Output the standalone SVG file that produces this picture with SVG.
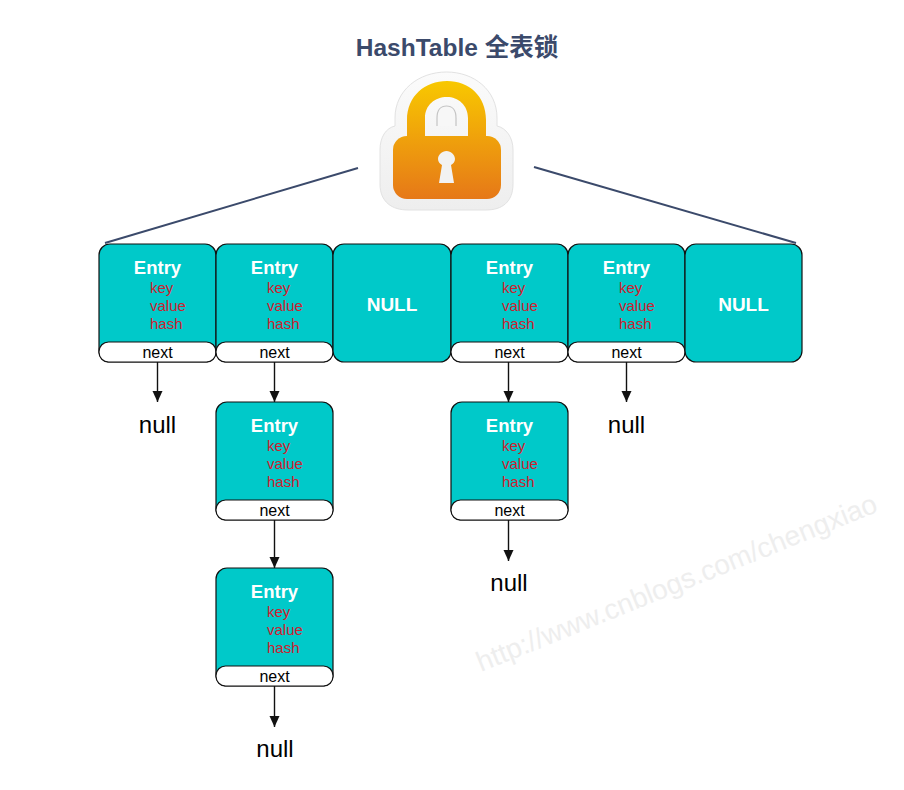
<svg xmlns="http://www.w3.org/2000/svg" xmlns:xlink="http://www.w3.org/1999/xlink" width="904" height="790" viewBox="0 0 904 790">
<style>
text{font-family:"Liberation Sans","Noto Sans CJK SC",sans-serif}
.cell{fill:#00c9c9;stroke:#111;stroke-width:1.2}
.pill{fill:#fff;stroke:#111;stroke-width:1.2}
.en{font-size:18.500px;font-weight:bold;fill:#fff;text-anchor:middle}
.nl{font-size:19px;font-weight:bold;fill:#fff;text-anchor:middle}
.f{font-size:15px;fill:#d0202e}
.nx{font-size:16px;fill:#000;text-anchor:middle}
.nu{font-size:24px;fill:#000;text-anchor:middle}
.ar{stroke:#111;stroke-width:1.4;fill:none;marker-end:url(#ah)}
.br{stroke:#3b4a6b;stroke-width:2;fill:none}
</style>
<defs>
<marker id="ah" markerUnits="userSpaceOnUse" markerWidth="11" markerHeight="11" refX="11" refY="5" orient="auto"><path d="M0 0L11 5L0 10Z" fill="#111"/></marker>
<linearGradient id="lg" gradientUnits="userSpaceOnUse" x1="0" y1="81" x2="0" y2="199"><stop offset="0" stop-color="#f8c800"/><stop offset="1" stop-color="#e67818"/></linearGradient>
<linearGradient id="wg" x1="0" y1="0" x2="0" y2="1"><stop offset="0" stop-color="#fbfbfb"/><stop offset="1" stop-color="#eeeeee"/></linearGradient>
<g id="entry">
<rect class="cell" x="0" y="0" width="117" height="118" rx="11"/>
<rect class="pill" x="0" y="98" width="117" height="20" rx="9.500"/>
<text class="en" x="58.500" y="30">Entry</text>
<text class="f" x="51" y="49">key</text>
<text class="f" x="51" y="67">value</text>
<text class="f" x="51" y="85">hash</text>
<text class="nx" x="58.500" y="114">next</text>
</g>
</defs>
<rect width="904" height="790" fill="#fff"/>
<text id="watermark" x="481" y="672" transform="rotate(-22 481 672)" font-size="28" fill="#eeeeee">http://www.cnblogs.com/chengxiao</text>
<text id="title" x="457" y="56" text-anchor="middle" font-size="24.500" font-weight="bold" fill="#3b4a6b">HashTable 全表锁</text>
<g id="lock">
<path d="M395 126C386 128 380 137 380 150V184C380 202 392 210 408 210H486C502 210 513 202 513 184V150C513 137 506 128 497 126V118C497 90 474 72 446.500 72C419 72 395 90 395 118Z" fill="url(#wg)" stroke="#e2e2e2"/>
<path d="M407 140V120C407 96 425 81 447 81C469 81 486 96 486 120V140H468V118C468 105 458 97 447 97C435 97 425 105 425 118V140Z" fill="url(#lg)"/>
<path d="M437 126V118C437 110 441 106 446.500 106C452 106 456 110 456 118V126" fill="#f7f7f7" stroke="#c4c4c4" stroke-width="1.200"/>
<rect x="393" y="136" width="108" height="63" rx="14" fill="url(#lg)"/>
<path d="M446.500 151C451 151 455 155 455 159C455 162 453 164 451 165L454 183H439L442 165C440 164 438 162 438 159C438 155 442 151 446.500 151Z" fill="#f2f2f2"/>
</g>
<g id="connectors">
<path class="br" d="M105 243L358 168"/>
<path class="br" d="M534 167L796 243"/>
<path class="ar" d="M157.500 362V402"/>
<path class="ar" d="M274.500 362V402"/>
<path class="ar" d="M508.500 362V402"/>
<path class="ar" d="M626.500 362V402"/>
<path class="ar" d="M274.500 520V568"/>
<path class="ar" d="M508.500 520V561"/>
<path class="ar" d="M274.500 686V727"/>
</g>
<use id="n1" xlink:href="#entry" href="#entry" x="99" y="244"/>
<use id="n2" xlink:href="#entry" href="#entry" x="216" y="244"/>
<g id="n3"><rect class="cell" x="333" y="244" width="118" height="118" rx="11"/><text class="nl" x="392" y="311">NULL</text></g>
<use id="n4" xlink:href="#entry" href="#entry" x="451" y="244"/>
<use id="n5" xlink:href="#entry" href="#entry" x="568" y="244"/>
<g id="n6"><rect class="cell" x="685" y="244" width="117" height="118" rx="11"/><text class="nl" x="743.500" y="311">NULL</text></g>
<use id="n7" xlink:href="#entry" href="#entry" x="216" y="402"/>
<use id="n8" xlink:href="#entry" href="#entry" x="216" y="568"/>
<use id="n9" xlink:href="#entry" href="#entry" x="451" y="402"/>
<text id="null1" class="nu" x="157.500" y="433">null</text>
<text id="null2" class="nu" x="626.500" y="433">null</text>
<text id="null3" class="nu" x="509" y="591">null</text>
<text id="null4" class="nu" x="275" y="757">null</text>
</svg>
